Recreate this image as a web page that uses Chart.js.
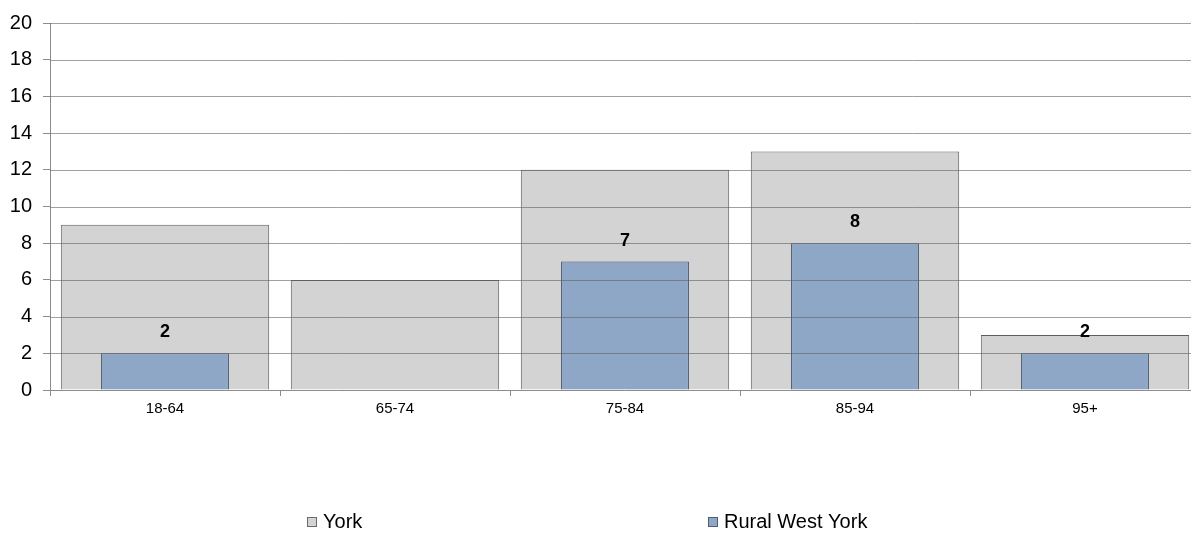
<!DOCTYPE html>
<html>
<head>
<meta charset="utf-8">
<script src="https://cdn.jsdelivr.net/npm/chart.js@4/dist/chart.umd.min.js"></script>
<style>
  html, body { margin: 0; padding: 0; background: #fff; overflow: hidden; }
  #wrap { width: 1200px; height: 533px; position: relative; }
</style>
</head>
<body>
<div id="wrap"><canvas id="ageChart"></canvas></div>
<script>
const categories = ['18-64', '65-74', '75-84', '85-94', '95+'];
const yorkValues = [9, 6, 12, 13, 3];
const ruralWestYorkValues = [2, 0, 7, 8, 2];
const yTickValues = [0, 2, 4, 6, 8, 10, 12, 14, 16, 18, 20];

const FONT = "'Liberation Sans', Arial, sans-serif";
const AXIS_GREY = '#8c8c8c';

// gridlines sit on top of the bars in the original, so draw them after the datasets
const gridOverlay = {
  id: 'gridOverlay',
  afterDatasetsDraw(chart) {
    const { ctx, chartArea } = chart;
    const y = chart.scales.y;
    ctx.save();
    ctx.strokeStyle = 'rgba(97,97,97,0.6)';
    ctx.lineWidth = 1;
    y.ticks.forEach(t => {
      if (t.value === 0) return;
      const py = Math.round(y.getPixelForValue(t.value)) + 0.5;
      ctx.beginPath();
      ctx.moveTo(chartArea.left, py);
      ctx.lineTo(chartArea.right, py);
      ctx.stroke();
    });
    ctx.restore();
  }
};

const valueLabels = {
  id: 'valueLabels',
  afterDatasetsDraw(chart) {
    const { ctx } = chart;
    const meta = chart.getDatasetMeta(1);
    ctx.save();
    ctx.font = 'bold 18px ' + FONT;
    ctx.fillStyle = '#000';
    ctx.textAlign = 'center';
    ctx.textBaseline = 'middle';
    meta.data.forEach((bar, i) => {
      const v = ruralWestYorkValues[i];
      if (!v) return;
      ctx.fillText(String(v), bar.x, bar.y - 21);
    });
    ctx.restore();
  }
};

const bottomLegend = {
  id: 'bottomLegend',
  afterDraw(chart) {
    const { ctx } = chart;
    const items = [
      { text: 'York', fill: '#d3d3d3', stroke: '#6a6a6a', x: 307 },
      { text: 'Rural West York', fill: '#8fa7c6', stroke: '#4e5d72', x: 708 }
    ];
    ctx.save();
    ctx.font = '20px ' + FONT;
    ctx.textBaseline = 'middle';
    items.forEach(it => {
      ctx.fillStyle = it.fill;
      ctx.fillRect(it.x, 517, 10, 10);
      ctx.strokeStyle = it.stroke;
      ctx.lineWidth = 1;
      ctx.strokeRect(it.x + 0.5, 517.5, 9, 9);
      ctx.fillStyle = '#000';
      ctx.fillText(it.text, it.x + 16, 522);
    });
    ctx.restore();
  }
};

new Chart(document.getElementById('ageChart'), {
  type: 'bar',
  data: {
    labels: categories,
    datasets: [
      {
        label: 'York',
        data: yorkValues,
        backgroundColor: '#d3d3d3',
        borderColor: '#5e5e5e',
        borderWidth: 1,
        grouped: false,
        categoryPercentage: 1,
        barPercentage: 0.906,
        order: 1
      },
      {
        label: 'Rural West York',
        data: ruralWestYorkValues,
        backgroundColor: '#8fa7c6',
        borderColor: '#46546a',
        borderWidth: 1,
        grouped: false,
        categoryPercentage: 1,
        barPercentage: 0.556,
        order: 0
      }
    ]
  },
  options: {
    responsive: true,
    maintainAspectRatio: false,
    animation: false,
    layout: { padding: { top: 14, left: 0, right: 0, bottom: 0 } },
    plugins: {
      legend: { display: false },
      tooltip: { enabled: false }
    },
    scales: {
      x: {
        grid: { display: true, offset: true, drawOnChartArea: false, tickLength: 6, color: AXIS_GREY },
        border: { display: true, color: AXIS_GREY },
        ticks: { font: { family: FONT, size: 15 }, color: '#000', padding: 4, maxRotation: 0 },
        afterFit: scale => { scale.height = 143; }
      },
      y: {
        min: 0,
        max: 20,
        afterBuildTicks: scale => { scale.ticks = yTickValues.map(v => ({ value: v })); },
        grid: { drawOnChartArea: false, tickLength: 7, color: AXIS_GREY },
        border: { display: true, color: AXIS_GREY },
        ticks: { font: { family: FONT, size: 20 }, color: '#000', padding: 11 },
        afterFit: scale => { scale.width = 50; }
      }
    }
  },
  plugins: [gridOverlay, valueLabels, bottomLegend]
});
</script>
</body>
</html>
